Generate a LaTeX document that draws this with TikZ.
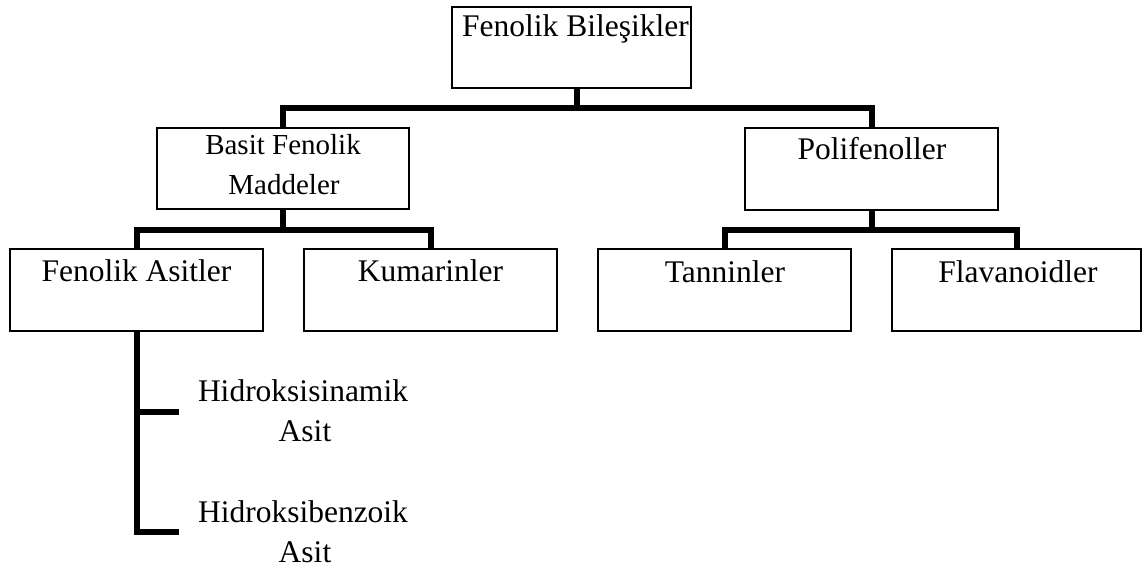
\documentclass[tikz,border=0pt]{standalone}
\usepackage{fontspec}
\setmainfont{Liberation Serif}
\begin{document}
\begin{tikzpicture}[x=1pt,y=-1pt,
  box/.style={draw,line width=1.2pt,inner sep=0pt,outer sep=0pt,anchor=north west},
  conn/.style={line width=6pt},
  lbl/.style={anchor=base,inner sep=0pt,font=\fontsize{31.5}{38}\selectfont},
  lbls/.style={anchor=base,inner sep=0pt,font=\fontsize{29}{35}\selectfont}]
\useasboundingbox (0,0) rectangle (1144,569);
% boxes
\node[box,minimum width=239pt,minimum height=81pt] (top) at (452,7) {};
\node[box,minimum width=252pt,minimum height=81pt] (basit) at (157,128) {};
\node[box,minimum width=253pt,minimum height=82pt] (poli) at (745,128) {};
\node[box,minimum width=253pt,minimum height=82pt] (fa) at (10,249) {};
\node[box,minimum width=253pt,minimum height=82pt] (kum) at (304,249) {};
\node[box,minimum width=253pt,minimum height=82pt] (tan) at (598,249) {};
\node[box,minimum width=249pt,minimum height=82pt] (fla) at (892,249) {};
% texts
\node[lbl] (ttop) at (575.5,37) {Fenolik Bileşikler};
\node[lbls] (tbasit1) at (283,155) {Basit Fenolik};
\node[lbls] (tbasit2) at (284,195) {Maddeler};
\node[lbl] (tpoli) at (872,160) {Polifenoller};
\node[lbl] (tfa) at (136.5,282) {Fenolik Asitler};
\node[lbl] (tkum) at (430.5,282) {Kumarinler};
\node[lbl] (ttan) at (725,283) {Tanninler};
\node[lbl] (tfla) at (1018,283) {Flavanoidler};
\node[lbl] (hs1) at (303,402) {Hidroksisinamik};
\node[lbl] (hs2) at (305,442) {Asit};
\node[lbl] (hb1) at (303,522) {Hidroksibenzoik};
\node[lbl] (hb2) at (305,562) {Asit};
% connectors
\coordinate (t0) at ([xshift=5.5pt]top.south);
\coordinate (j1) at (t0 |- 0,108);
\coordinate (j2) at (basit.south |- 0,230);
\coordinate (j3) at (poli.south |- 0,230);
\coordinate (h1) at (179,412);
\coordinate (h2) at (179,532);
\draw[conn] (t0) -- (j1);
\draw[conn] (basit.north) |- (j1) -| (poli.north);
\draw[conn] (basit.south) -- (j2);
\draw[conn] (fa.north) |- (j2) -| (kum.north);
\draw[conn] (poli.south) -- (j3);
\draw[conn] (tan.north) |- (j3) -| (fla.north);
\draw[conn] (fa.south) |- (h2);
\draw[conn] (fa.south |- h1) -- (h1);
\end{tikzpicture}
\end{document}
